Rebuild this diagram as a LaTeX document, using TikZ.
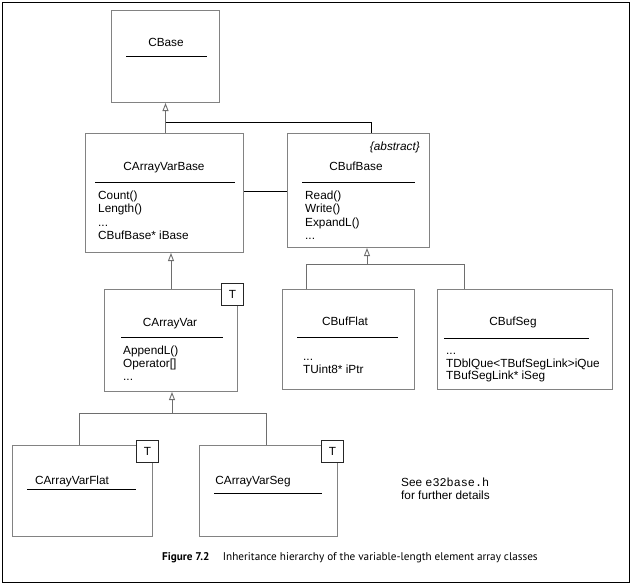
\documentclass[tikz,border=0pt]{standalone}
\usepackage{fontspec}
\setmainfont{Liberation Sans}
\setmonofont{Liberation Mono}
\newfontfamily\capfont{PT Sans}
\usetikzlibrary{arrows.meta}
\definecolor{bordergray}{RGB}{130,130,130}
\definecolor{conngray}{RGB}{110,110,110}
\newcommand{\dfont}{\fontsize{11.8}{14}\selectfont}
\begin{document}
\begin{tikzpicture}[x=1pt,y=-1pt,
  frame/.style={draw=black, line width=1.2pt},
  box/.style={draw=bordergray, line width=1pt, inner sep=0pt, anchor=north west},
  sepline/.style={draw=black, line width=0.8pt},
  tbox/.style={draw=black!85, fill=white, line width=0.8pt, minimum width=22pt, minimum height=22pt, inner sep=0pt, anchor=north west, font=\dfont},
  title/.style={font=\dfont, inner sep=0pt, anchor=base},
  member/.style={font=\dfont, inner sep=0pt, anchor=base west},
  conn/.style={draw=conngray, line width=0.9pt},
  inh/.style={draw=conngray, line width=0.9pt, -{Triangle[open, width=6pt, length=8pt]}}
]
\useasboundingbox (0,0) rectangle (631,584);
\node[frame, inner sep=0pt, anchor=north west, minimum width=627.5pt, minimum height=580.5pt] (outer) at (1.5,1.5) {};

% ---------- CBase ----------
\node[box, minimum width=108pt, minimum height=92pt] (cbase) at (111,10) {};
\node[title] (cbaset) at (166,46) {CBase};
\draw[sepline] (126,56) coordinate (cbl1) -- (207,56) coordinate (cbl2);

% ---------- CArrayVarBase ----------
\node[box, minimum width=158pt, minimum height=119pt] (avb) at (85,133) {};
\node[title] (avbt) at (164,170) {CArrayVarBase};
\draw[sepline] (95,182) coordinate (avbl1) -- (235,182) coordinate (avbl2);
\node[member] (avbm1) at (98,199) {Count()};
\node[member] (avbm2) at (98,212.5) {Length()};
\node[member] (avbm3) at (98,226) {...};
\node[member] (avbm4) at (98,239.5) {CBufBase* iBase};

% ---------- CBufBase ----------
\node[box, minimum width=142pt, minimum height=114pt] (cbb) at (287,133) {};
\node[font=\dfont\itshape, inner sep=0pt, anchor=base east] (abs) at (420,150) {\{abstract\}};
\node[title] (cbbt) at (356,170) {CBufBase};
\draw[sepline] (302,182) coordinate (cbbl1) -- (415,182) coordinate (cbbl2);
\node[member] (cbbm1) at (305,199) {Read()};
\node[member] (cbbm2) at (305,212.5) {Write()};
\node[member] (cbbm3) at (305,226) {ExpandL()};
\node[member] (cbbm4) at (305,239) {...};

% ---------- CArrayVar ----------
\node[box, minimum width=133pt, minimum height=102pt] (cav) at (104,289) {};
\node[tbox] (cavT) at (221,283) {T};
\node[title] (cavt) at (170,326) {CArrayVar};
\draw[sepline] (121,337) coordinate (cavl1) -- (223,337) coordinate (cavl2);
\node[member] (cavm1) at (123,354) {AppendL()};
\node[member] (cavm2) at (123,367) {Operator[]};
\node[member] (cavm3) at (123,380) {...};

% ---------- CBufFlat ----------
\node[box, minimum width=132pt, minimum height=100pt] (cbf) at (282,289) {};
\node[title] (cbft) at (345,325) {CBufFlat};
\draw[sepline] (297,337) coordinate (cbfl1) -- (398,337) coordinate (cbfl2);
\node[member] (cbfm1) at (303,360) {...};
\node[member] (cbfm2) at (303,373) {TUint8* iPtr};

% ---------- CBufSeg ----------
\node[box, minimum width=175pt, minimum height=100pt] (cbs) at (437,289) {};
\node[title] (cbst) at (513,325) {CBufSeg};
\draw[sepline] (444,338) coordinate (cbsl1) -- (589,338) coordinate (cbsl2);
\node[member] (cbsm1) at (446,354) {...};
\node[member] (cbsm2) at (446,367) {TDblQue<TBufSegLink>iQue};
\node[member] (cbsm3) at (446,379.5) {TBufSegLink* iSeg};

% ---------- CArrayVarFlat ----------
\node[box, minimum width=140pt, minimum height=91pt] (cavf) at (12,445) {};
\node[tbox] (cavfT) at (136,440) {T};
\node[title] (cavft) at (72,484) {CArrayVarFlat};
\draw[sepline] (27,489) coordinate (cavfl1) -- (136,489) coordinate (cavfl2);

% ---------- CArrayVarSeg ----------
\node[box, minimum width=138pt, minimum height=91pt] (cavs) at (199,445) {};
\node[tbox] (cavsT) at (321,440) {T};
\node[title] (cavst) at (253,484) {CArrayVarSeg};
\draw[sepline] (214,493) coordinate (cavsl1) -- (322,493) coordinate (cavsl2);

% ---------- connectors ----------
\coordinate (j1) at (371,122);
\draw[inh] (avb.north -| cbase.south) -- (cbase.south);
\draw[conn, draw=black] (cbase.south |- j1) -- (j1) -- (j1 |- cbb.north);

\coordinate (a1) at (265,191);
\draw[conn, draw=black] (a1 -| avb.east) -- (a1 -| cbb.west);

\draw[inh] (cav.north) -- (cav.north |- avb.south);

\coordinate (j2) at (367,264);
\coordinate (j2l) at (306,264);
\coordinate (j2r) at (464,264);
\draw[inh] (j2) -- (j2 |- cbb.south);
\draw[conn] (j2l |- cbf.north) -- (j2l) -- (j2r) -- (j2r |- cbs.north);

\coordinate (j3) at (172,413);
\coordinate (j3l) at (79,413);
\coordinate (j3r) at (266,413);
\draw[inh] (j3) -- (j3 |- cav.south);
\draw[conn] (j3l |- cavf.north) -- (j3l) -- (j3r) -- (j3r |- cavs.north);

% ---------- note ----------
\node[member] (note1) at (401,486) {See \texttt{e32base.h}};
\node[member] (note2) at (401,499) {for further details};

% ---------- caption ----------
\node[inner sep=0pt, anchor=base west, font=\capfont\fontsize{11.2}{13}\selectfont] (cap) at (162,560)
  {\textbf{Figure 7.2}\hspace{1.2em}Inheritance hierarchy of the variable-length element array classes};
\end{tikzpicture}
\end{document}
